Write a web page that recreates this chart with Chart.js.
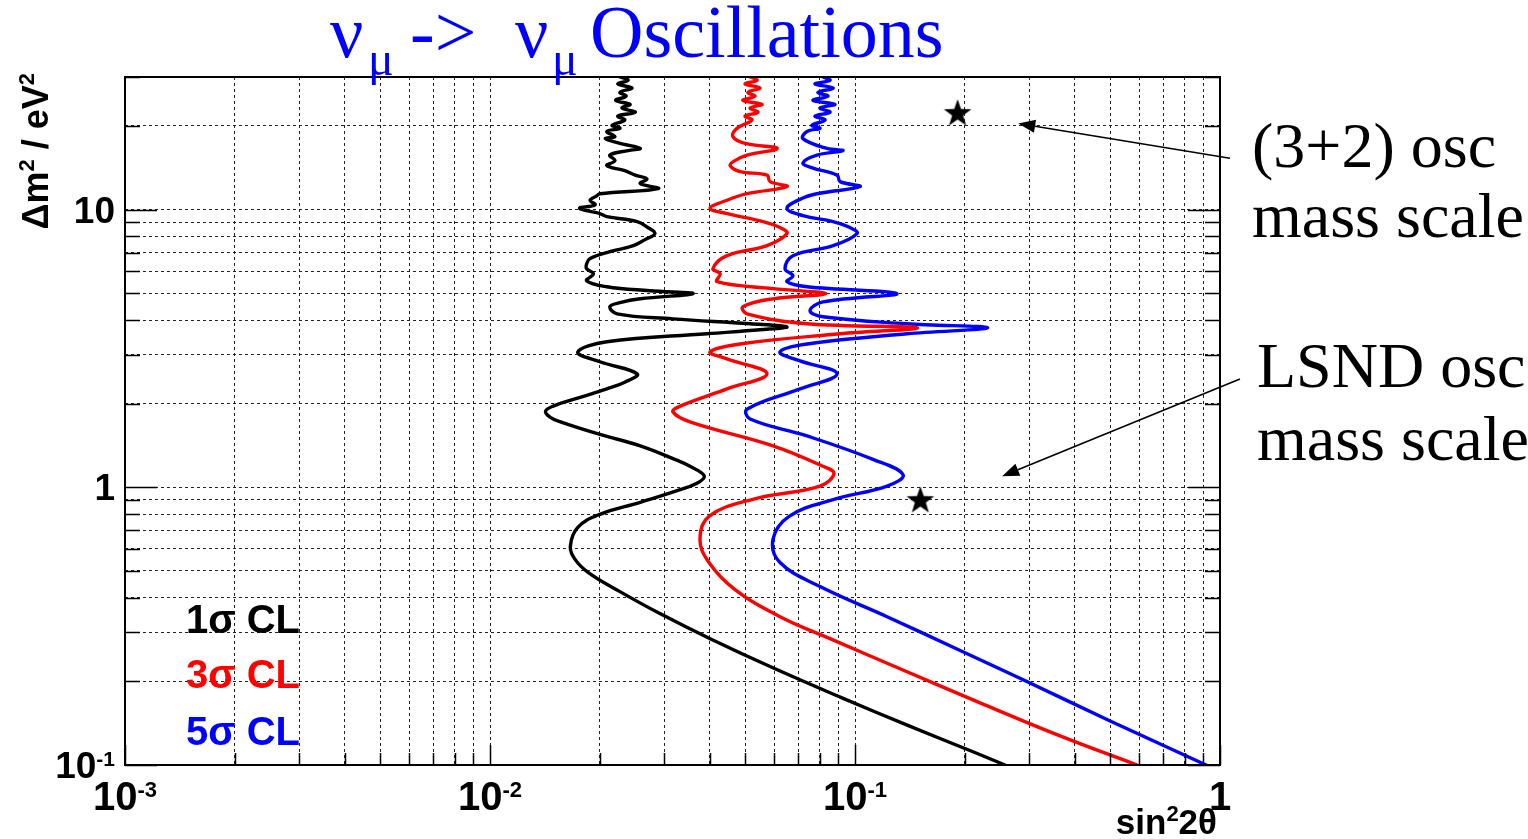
<!DOCTYPE html>
<html><head><meta charset="utf-8">
<script src="https://cdn.jsdelivr.net/npm/chart.js@4/dist/chart.umd.min.js"></script>
<style>html,body{margin:0;padding:0;background:#fff;overflow:hidden}canvas{display:block}</style>
</head><body>
<canvas id="c" width="1528" height="839" style="width:1528px;height:839px"></canvas>
<script>
// ---------------- data ----------------
const sig1_dm2 = [30.0,29.2,28.3,27.4,26.4,25.6,24.7,23.9,23.2,22.4,21.7,21.0,20.1,19.6,19.1,18.3,18.0,17.3,16.6,16.3,15.7,15.0,14.4,13.8,13.3,12.9,12.4,11.9,11.4,11.2,10.8,10.4,10.1,9.67,9.43,9.05,8.61,8.19,7.79,7.41,7.05,6.66,6.38,6.12,5.87,5.54,5.27,5.10,4.98,4.77,4.62,4.47,4.21,4.04,3.88,3.78,3.69,3.57,3.34,3.07,2.83,2.56,2.39,2.26,2.08,1.96,1.88,1.79,1.72,1.55,1.41,1.26,1.19,1.10,1.034,0.967,0.883,0.799,0.717,0.612,0.550,0.493,0.421,0.351,0.285,0.222,0.1745,0.1383,0.1105,0.100];
const sig1_sin2 = [0.0227,0.0239,0.0224,0.0245,0.0227,0.0236,0.0221,0.0242,0.0230,0.0250,0.0224,0.0234,0.0216,0.0227,0.0209,0.0220,0.0207,0.0227,0.0258,0.0239,0.0213,0.0220,0.0209,0.0234,0.0250,0.0269,0.0258,0.0289,0.0200,0.0196,0.0188,0.0194,0.0176,0.0200,0.0209,0.0253,0.0271,0.0283,0.0266,0.0247,0.0213,0.0188,0.0184,0.0184,0.0192,0.0184,0.0209,0.0274,0.0360,0.0258,0.0227,0.0213,0.0223,0.0317,0.0516,0.0651,0.0549,0.0393,0.0209,0.0174,0.0200,0.0253,0.0234,0.0209,0.0171,0.0149,0.0142,0.0146,0.0156,0.0200,0.0258,0.0321,0.0353,0.0386,0.0369,0.0321,0.0258,0.0200,0.0174,0.0166,0.0171,0.0186,0.0227,0.0292,0.0401,0.0604,0.0921,0.1406,0.2146,0.2576];

const sig3_dm2 = [30.0,29.2,28.3,27.4,26.4,25.6,24.7,23.9,23.2,22.4,21.7,21.0,19.6,18.3,17.3,16.6,15.7,15.0,14.4,13.7,13.3,12.6,12.1,11.4,10.8,10.1,9.67,9.05,8.61,8.19,7.41,6.82,6.12,5.87,5.50,5.19,4.98,4.77,4.47,4.21,3.88,3.75,3.57,3.28,3.07,2.90,2.56,2.26,1.96,1.87,1.72,1.41,1.19,1.12,1.01,0.905,0.786,0.649,0.536,0.428,0.342,0.285,0.222,0.1674,0.1273,0.100];
const sig3_sin2 = [0.0516,0.0539,0.0500,0.0549,0.0509,0.0532,0.0493,0.0556,0.0516,0.0542,0.0500,0.0522,0.0475,0.0463,0.0500,0.0612,0.0506,0.0469,0.0455,0.0484,0.0574,0.0585,0.0651,0.0506,0.0446,0.0401,0.0446,0.0560,0.0623,0.0651,0.0574,0.0446,0.0408,0.0427,0.0419,0.0596,0.0833,0.0596,0.0493,0.0506,0.0739,0.148,0.0910,0.0484,0.0401,0.0446,0.0574,0.0446,0.0332,0.0317,0.0353,0.0596,0.0817,0.0876,0.0802,0.0525,0.0398,0.0376,0.0398,0.0469,0.0623,0.0854,0.1328,0.2201,0.3644,0.5925];

const sig5_dm2 = [30.0,29.2,28.3,27.4,26.4,25.6,24.7,23.9,23.2,22.4,21.7,21.0,20.1,19.6,19.1,18.0,16.6,16.3,15.7,14.7,14.1,13.3,12.6,12.1,11.4,11.0,10.1,9.51,9.05,8.61,8.19,7.41,6.82,6.12,5.78,5.50,5.27,4.98,4.65,4.32,4.11,3.88,3.75,3.57,3.28,3.07,2.85,2.56,2.26,1.91,1.76,1.53,1.26,1.11,1.01,0.905,0.786,0.649,0.536,0.439,0.342,0.2645,0.2044,0.1441,0.100];
const sig5_sin2 = [0.0817,0.0854,0.0777,0.0871,0.0792,0.0843,0.0767,0.0881,0.0802,0.0854,0.0777,0.0828,0.0762,0.0802,0.0739,0.0720,0.0838,0.0927,0.0787,0.0720,0.0767,0.0893,0.0910,0.1032,0.0787,0.0720,0.0651,0.0720,0.0871,0.0969,0.1013,0.0871,0.0676,0.0643,0.0676,0.0651,0.0739,0.1303,0.0817,0.0753,0.0817,0.1389,0.231,0.1389,0.0739,0.0623,0.0707,0.0893,0.0707,0.0506,0.0516,0.0739,0.1120,0.1354,0.1224,0.0876,0.0660,0.0596,0.0623,0.0802,0.1224,0.187,0.285,0.500,0.916];

const star_sin2 = [0.191, 0.151];
const star_dm2  = [22.4, 0.905];

const legend_labels = ['1σ CL', '3σ CL', '5σ CL'];

const x_grid = [0.001,0.002,0.003,0.004,0.005,0.006,0.007,0.008,0.009,0.01,0.02,0.03,0.04,0.05,0.06,0.07,0.08,0.09,0.1,0.2,0.3,0.4,0.5,0.6,0.7,0.8,0.9,1];
const y_grid = [0.1,0.2,0.3,0.4,0.5,0.6,0.7,0.8,0.9,1,2,3,4,5,6,7,8,9,10,20,30];
const x_major = [0.001, 0.01, 0.1, 1];
const y_major = [0.1, 1, 10];
const x_tick_labels = [['10','-3'],['10','-2'],['10','-1'],['1','']];
const y_tick_labels = [['10','-1'],['1',''],['10','']];

// annotations: text lines and arrows (arrow ends in data units)
const note_lines = ['(3+2) osc', 'mass scale', 'LSND osc', 'mass scale'];
const note_arrows = [
  {from:[1.065, 15.3], to:[0.280, 20.4]},
  {from:[1.134, 2.455], to:[0.253, 1.096]}
];

// ---------------- styling ----------------
const SANS = '"Liberation Sans", Arial, Helvetica, sans-serif';
const SERIF = '"Liberation Serif", "Times New Roman", serif';
const COLORS = ['#000000', '#ff0000', '#0000ff'];

function pts(xs, ys){ return xs.map((x,i)=>({x:x, y:ys[i]})); }

function makeStar(){
  const c = document.createElement('canvas');
  c.width = 32; c.height = 32;
  const g = c.getContext('2d');
  const cx = 16, cy = 17.4, R = 14.5, r = 5.8;
  g.beginPath();
  for (let i=0;i<10;i++){
    const a = -Math.PI/2 + i*Math.PI/5;
    const rr = (i%2===0)? R : r;
    const px = cx + rr*Math.cos(a), py = cy + rr*Math.sin(a);
    if(i===0) g.moveTo(px,py); else g.lineTo(px,py);
  }
  g.closePath(); g.fillStyle = '#000'; g.fill();
  return c;
}

function runWidth(ctx, segs){ let w=0; for(const s of segs){ ctx.font=s.font; w+=ctx.measureText(s.t).width; } return w; }
function drawRun(ctx, segs, x, y, align, color){
  const w = runWidth(ctx, segs);
  let cx = align==='center' ? x-w/2 : (align==='right' ? x-w : x);
  ctx.fillStyle = color; ctx.textAlign='left'; ctx.textBaseline='alphabetic';
  for(const s of segs){ ctx.font=s.font; ctx.fillText(s.t, cx, y+(s.dy||0)); cx += ctx.measureText(s.t).width; }
}

const decor = {
  id:'decor',
  afterDraw(chart){
    const ctx = chart.ctx, a = chart.chartArea;
    const xs = chart.scales.x, ys = chart.scales.y;
    ctx.save();
    // frame
    ctx.strokeStyle='#000'; ctx.lineWidth=2; ctx.setLineDash([]);
    ctx.strokeRect(a.left, a.top, a.right-a.left, a.bottom-a.top);
    // tick marks (inward)
    ctx.lineWidth=1.5;
    ctx.beginPath();
    for(const v of y_grid){
      const p = Math.round(ys.getPixelForValue(v))+0.5;
      const L = y_major.includes(v) ? 32 : 15;
      ctx.moveTo(a.left, p); ctx.lineTo(a.left+L, p);
      ctx.moveTo(a.right, p); ctx.lineTo(a.right-L, p);
    }
    for(const v of x_grid){
      const p = Math.round(xs.getPixelForValue(v))+0.5;
      const L = x_major.includes(v) ? 20 : 12;
      ctx.moveTo(p, a.bottom); ctx.lineTo(p, a.bottom-L);
    }
    ctx.stroke();
    // x tick labels
    x_major.forEach((v,i)=>{
      const p = xs.getPixelForValue(v);
      drawRun(ctx, [{t:x_tick_labels[i][0], font:'bold 40px '+SANS},{t:x_tick_labels[i][1], font:'bold 22px '+SANS, dy:-13}], p, 810, 'center', '#000');
    });
    // y tick labels
    y_major.forEach((v,i)=>{
      const p = ys.getPixelForValue(v);
      drawRun(ctx, [{t:y_tick_labels[i][0], font:'bold 37px '+SANS},{t:y_tick_labels[i][1], font:'bold 21px '+SANS, dy:-12}], 115, p+13, 'right', '#000');
    });
    // axis titles
    drawRun(ctx, [{t:'sin', font:'bold 35px '+SANS},{t:'2', font:'bold 22px '+SANS, dy:-13},{t:'2θ', font:'bold 35px '+SANS}], 1217, 834, 'right', '#000');
    ctx.save();
    ctx.translate(48, 73); ctx.rotate(-Math.PI/2);
    drawRun(ctx, [{t:'Δm', font:'bold 36px '+SANS},{t:'2', font:'bold 22px '+SANS, dy:-14},{t:' / eV', font:'bold 36px '+SANS},{t:'2', font:'bold 22px '+SANS, dy:-14}], 0, 0, 'right', '#000');
    ctx.restore();
    // legend text
    const legY = [633, 688, 745];
    legend_labels.forEach((t,i)=>{
      ctx.font = 'bold 40px '+SANS; ctx.fillStyle = COLORS[i]; ctx.textAlign='left'; ctx.textBaseline='alphabetic';
      ctx.fillText(t, 186, legY[i]);
    });
    // title
    ctx.fillStyle = '#0000ff'; ctx.textAlign='left'; ctx.textBaseline='alphabetic';
    ctx.font = '74px '+SERIF; ctx.fillText('ν', 330, 57);
    ctx.font = '48px '+SERIF; ctx.fillText('μ', 368, 75);
    ctx.font = '74px '+SERIF; ctx.fillText('->', 410, 57);
    ctx.font = '74px '+SERIF; ctx.fillText('ν', 515, 57);
    ctx.font = '48px '+SERIF; ctx.fillText('μ', 552, 75);
    ctx.font = '74px '+SERIF; ctx.fillText('Oscillations', 590, 57);
    // annotation text
    ctx.fillStyle = '#000'; ctx.font = '64px '+SERIF;
    ctx.fillText(note_lines[0], 1252, 167);
    ctx.fillText(note_lines[1], 1252, 237);
    ctx.fillText(note_lines[2], 1257, 387);
    ctx.fillText(note_lines[3], 1257, 460);
    // arrows
    ctx.strokeStyle='#000'; ctx.lineWidth=1.6;
    for(const ar of note_arrows){
      const x1 = xs.getPixelForValue(ar.from[0]), y1 = ys.getPixelForValue(ar.from[1]);
      const x2 = xs.getPixelForValue(ar.to[0]), y2 = ys.getPixelForValue(ar.to[1]);
      const ang = Math.atan2(y2-y1, x2-x1);
      const hl = 17, hw = 6.5;
      const bx = x2 - hl*Math.cos(ang), by = y2 - hl*Math.sin(ang);
      ctx.beginPath(); ctx.moveTo(x1,y1); ctx.lineTo(bx,by); ctx.stroke();
      ctx.beginPath();
      ctx.moveTo(x2,y2);
      ctx.lineTo(bx + hw*Math.sin(ang), by - hw*Math.cos(ang));
      ctx.lineTo(bx - hw*Math.sin(ang), by + hw*Math.cos(ang));
      ctx.closePath(); ctx.fillStyle='#000'; ctx.fill();
    }
    ctx.restore();
  }
};

const lineCommon = {showLine:true, pointRadius:0, pointHoverRadius:0, borderWidth:3.4, tension:0.4, fill:false, borderJoinStyle:'round', borderCapStyle:'round'};

new Chart(document.getElementById('c'), {
  type:'scatter',
  data:{ datasets:[
    Object.assign({label:legend_labels[0], data:pts(sig1_sin2, sig1_dm2), borderColor:COLORS[0]}, lineCommon),
    Object.assign({label:legend_labels[1], data:pts(sig3_sin2, sig3_dm2), borderColor:COLORS[1]}, lineCommon),
    Object.assign({label:legend_labels[2], data:pts(sig5_sin2, sig5_dm2), borderColor:COLORS[2]}, lineCommon),
    {label:'mass scales', data:pts(star_sin2, star_dm2), showLine:false, pointStyle:makeStar(), pointRadius:14, borderWidth:0, backgroundColor:'#000'}
  ]},
  options:{
    responsive:false, animation:false, devicePixelRatio:1,
    layout:{padding:{left:125, right:308, top:77, bottom:74}},
    plugins:{legend:{display:false}, tooltip:{enabled:false}, title:{display:false}},
    elements:{line:{tension:0.4, borderWidth:3.4}},
    scales:{
      x:{type:'logarithmic', min:0.001, max:1,
         afterBuildTicks:(s)=>{ s.ticks = x_grid.map(v=>({value:v})); },
         ticks:{display:false}, grid:{color:'#222', lineWidth:1, drawTicks:false}, border:{display:false, dash:[3,3]}},
      y:{type:'logarithmic', min:0.1, max:30,
         afterBuildTicks:(s)=>{ s.ticks = y_grid.map(v=>({value:v})); },
         ticks:{display:false}, grid:{color:'#222', lineWidth:1, drawTicks:false}, border:{display:false, dash:[3,3]}}
    }
  },
  plugins:[decor]
});
</script>
</body></html>
